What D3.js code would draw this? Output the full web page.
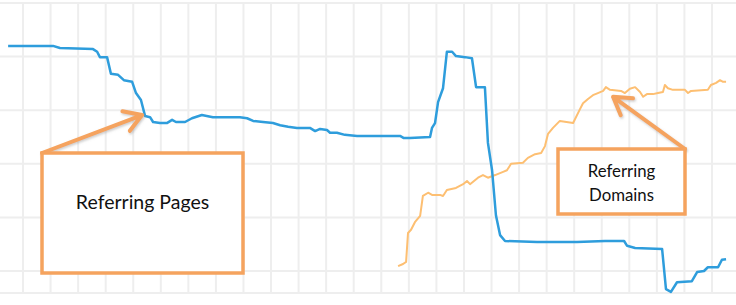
<!DOCTYPE html>
<html>
<head>
<meta charset="utf-8">
<script src="https://cdnjs.cloudflare.com/ajax/libs/d3/7.8.5/d3.min.js"></script>
<style>
  body { margin: 0; background: #fff; }
  .grid line { stroke: #eeeeee; stroke-width: 2; }
  .note-box { fill: #fff; stroke: #f5a35e; stroke-width: 3.5; }
  .note-text { font-family: Lato, "Open Sans", sans-serif; fill: #111; text-anchor: middle; }
</style>
</head>
<body>
<script>
// weeks on x (grid every week), arbitrary units on y (grid every 100)
const pagesX = [0.46, 2.09, 2.34, 3.54, 3.69, 3.79, 4.05, 4.19, 4.45, 4.66, 4.96, 5.10, 5.28, 5.43, 5.61,
  5.72, 5.97, 6.22, 6.41, 6.55, 6.88, 7.13, 7.49, 7.89, 8.87, 9.13, 9.35, 9.71, 10.07, 10.33, 10.62,
  10.94, 11.41, 11.60, 11.78, 12.03, 12.14, 12.39, 12.68, 13.12, 14.68, 14.82, 15.04, 15.77, 15.84,
  15.95, 16.06, 16.24, 16.38, 16.57, 16.71, 17.04, 17.29, 17.44, 17.76, 17.87, 18.02, 18.16, 18.31,
  18.49, 19.65, 21.10, 22.12, 22.81, 22.92, 23.21, 24.19, 24.33, 24.51, 24.73, 25.27, 25.46, 25.71,
  25.85, 26.22, 26.36, 26.51];
const pagesY = [520, 520, 516, 514, 509, 499, 499, 468, 466, 456, 453, 432, 419, 389, 387,
  378, 376, 376, 382, 378, 378, 385, 391, 387, 387, 385, 380, 378, 376, 372, 369,
  367, 367, 361, 365, 363, 358, 358, 354, 352, 352, 348, 348, 350, 367,
  376, 415, 441, 509, 509, 501, 499, 497, 443, 443, 339, 288, 204, 167,
  156, 154, 154, 156, 156, 147, 143, 141, 66, 61, 79, 81, 98, 100,
  107, 107, 121, 122];

const domainsX = [14.61, 14.79, 14.90, 14.97, 15.08, 15.22, 15.41, 15.51, 15.70, 15.84, 16.13, 16.24,
  16.38, 16.71, 16.97, 17.11, 17.22, 17.51, 17.69, 17.87, 18.13, 18.42, 18.56, 18.71, 19.14, 19.32,
  19.58, 19.80, 19.94, 20.05, 20.23, 20.48, 20.96, 21.21, 21.32, 21.50, 21.68, 21.86, 22.05, 22.15,
  22.30, 22.70, 22.84, 23.02, 23.21, 23.39, 23.50, 23.64, 23.86, 24.04, 24.22, 24.29, 24.40, 24.58,
  25.02, 25.13, 25.24, 25.85, 25.96, 26.15, 26.29, 26.40, 26.51];
const domainsY = [109, 113, 117, 171, 177, 191, 203, 240, 246, 242, 242, 240,
  251, 255, 262, 268, 262, 274, 279, 274, 279, 285, 288, 300, 302, 311,
  318, 320, 333, 356, 367, 380, 376, 402, 413, 421, 428, 432, 436, 443,
  438, 436, 432, 440, 443, 434, 425, 430, 430, 432, 434, 447, 441, 438,
  438, 432, 436, 438, 447, 451, 456, 453, 453];

const weekTicks = d3.range(1, 27);
const valueTicks = [100, 200, 300, 400, 500, 600];

const noteLabels = [["Referring Pages"], ["Referring", "Domains"]];
const noteTargets = [[5.32, 391], [22.41, 425]];

const width = 736;
const height = 305;
const bottom = 293;

const svg = d3.select("body").append("svg")
  .attr("width", width).attr("height", height);

const x = d3.scaleLinear().domain([1, 26]).range([23, 712]);
const y = d3.scaleLinear().domain([100, 600]).range([271, 3]);

// grid
const grid = svg.append("g").attr("class", "grid");
grid.selectAll("line.v").data(weekTicks).join("line").attr("class", "v")
  .attr("x1", d => x(d)).attr("x2", d => x(d))
  .attr("y1", y(600)).attr("y2", bottom);
grid.selectAll("line.h").data(valueTicks.map(y).concat([bottom])).join("line").attr("class", "h")
  .attr("x1", 0).attr("x2", width)
  .attr("y1", d => d).attr("y2", d => d);

const line = d3.line().x(d => x(d[0])).y(d => y(d[1]));

svg.append("path")
  .datum(d3.zip(domainsX, domainsY))
  .attr("d", line)
  .style("fill", "none")
  .style("stroke", "#fdbf72")
  .style("stroke-width", 2)
  .style("stroke-linejoin", "round");

svg.append("path")
  .datum(d3.zip(pagesX, pagesY))
  .attr("d", line)
  .style("fill", "none")
  .style("stroke", "#2e9ddc")
  .style("stroke-width", 2.5)
  .style("stroke-linejoin", "round");

// annotations
const boxes = [
  { x: 42, y: 153, w: 201, h: 120, size: 19.5, base: 209, gap: 0 },
  { x: 558, y: 149, w: 127, h: 65, size: 16.8, base: 177, gap: 24 }
];
const anchors = [[42, 153], [685, 149]];

const defs = svg.append("defs");
defs.append("filter").attr("id", "shadow")
  .append("feDropShadow")
  .attr("dx", 1).attr("dy", 1.5).attr("stdDeviation", 1.2)
  .attr("flood-color", "#999").attr("flood-opacity", 0.5);

const notes = svg.selectAll("g.note").data(boxes).join("g").attr("class", "note");

notes.append("path")
  .attr("filter", "url(#shadow)")
  .attr("d", (b, i) => {
    const [x0, y0] = anchors[i];
    const tx = x(noteTargets[i][0]), ty = y(noteTargets[i][1]);
    const a = Math.atan2(ty - y0, tx - x0);
    const len = 20, spread = 0.55;
    const w1 = [tx - len * Math.cos(a - spread), ty - len * Math.sin(a - spread)];
    const w2 = [tx - len * Math.cos(a + spread), ty - len * Math.sin(a + spread)];
    return `M${x0},${y0}L${tx},${ty}M${w1}L${tx},${ty}L${w2}`;
  })
  .style("fill", "none")
  .style("stroke", "#f5a35e")
  .style("stroke-width", 4)
  .style("stroke-linecap", "round")
  .style("stroke-linejoin", "round");

notes.append("rect").attr("class", "note-box")
  .attr("x", b => b.x).attr("y", b => b.y)
  .attr("width", b => b.w).attr("height", b => b.h);

notes.each(function (b, i) {
  d3.select(this).selectAll("text").data(noteLabels[i]).join("text")
    .attr("class", "note-text")
    .attr("x", b.x + b.w / 2)
    .attr("y", (d, j) => b.base + j * b.gap)
    .style("font-size", b.size + "px")
    .text(d => d);
});
</script>
</body>
</html>
